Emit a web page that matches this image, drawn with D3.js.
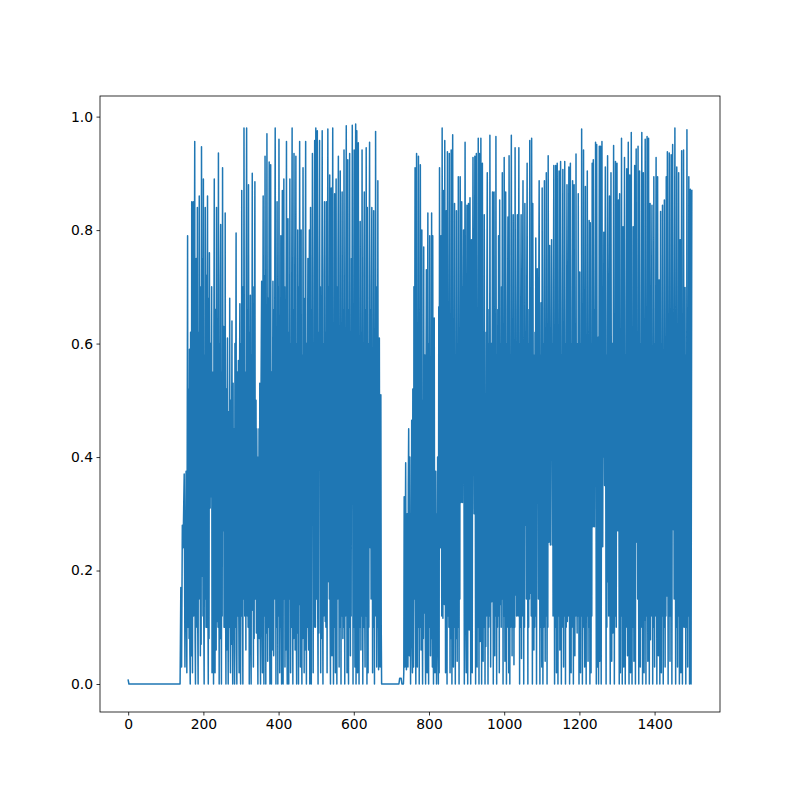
<!DOCTYPE html>
<html>
<head>
<meta charset="utf-8">
<script src="https://cdn.jsdelivr.net/npm/d3@7"></script>
<style>
  body { margin: 0; background: #fff; }
  svg { display: block; }
  .tick text { font-family: "DejaVu Sans", sans-serif; font-size: 13.9px; fill: #000; }
</style>
</head>
<body>
<svg id="chart"></svg>
<script>
// [index, value] points, split in the same runs the plot shows
var quietStart = [[0, .007], [2, 0], [138, 0]];

var rampUp = [
  [140, .17], [142, .03], [144, .28], [146, .24], [149, .37], [151, .03], [154, .375], [156, .02]
];

var firstBurst = [
  [158, .79], [159, .10], [160, .30], [161, .52], [162, .08], [163, .59], [164, .06], [165, 0],
  [166, .62], [167, .10], [168, .05], [169, .85], [170, .15], [171, .02], [172, .66], [173, .85],
  [174, .12], [175, .36], [176, .70], [177, .956], [178, .08], [179, 0], [180, .55], [181, .75],
  [182, .15], [183, .10], [184, .84], [185, .10], [186, 0], [187, .62], [188, .15], [189, .86],
  [190, .45], [191, .70], [192, .05], [193, .50], [194, .07], [195, .947], [196, .60], [197, .19],
  [198, .75], [199, .12], [200, .89], [201, .12], [202, 0], [203, .58], [204, .15], [205, .84],
  [206, .65], [207, .10], [208, .72], [209, .10], [210, .55], [211, .86], [212, .15], [213, 0],
  [214, .68], [215, .08], [216, .76], [217, .50], [218, .31], [219, .60], [220, .45], [221, .33],
  [222, .70], [223, .02], [224, .45], [225, .15], [226, .55], [227, 0], [228, .62], [229, .89],
  [230, .09], [231, .02], [232, .66], [233, .15], [234, .06], [235, .84], [236, .52], [237, .11],
  [238, .58], [239, .10], [240, .936], [241, .44], [242, 0], [243, .60], [244, .08], [245, .70],
  [246, .81], [247, .15], [248, 0], [249, .55], [250, .12], [251, .91], [252, .48], [253, .27],
  [254, .63], [255, .10], [256, .50], [257, .10], [258, .83], [259, .15], [260, 0], [261, .52],
  [262, .06], [263, .45], [264, .61], [265, .15], [266, 0], [267, .48], [268, .10], [269, .10],
  [270, .68], [271, .12], [272, .02], [273, .50], [274, .07], [275, .40], [276, .64], [277, .12],
  [278, 0], [279, .53], [280, .08], [281, .45], [282, .10], [283, 0], [284, .60], [285, .10],
  [286, .50], [287, .795], [288, .06], [289, 0], [290, .55], [291, .12], [292, .15], [293, .57],
  [294, .15], [295, .02], [296, .50], [297, .67], [298, .07], [299, 0], [300, .60], [301, .12],
  [302, .87], [303, .45], [304, .15], [305, 0], [306, .70], [307, .15], [308, .98], [309, .50],
  [310, .12], [311, .30], [312, .55], [313, .06], [314, .75], [315, .98], [316, .45], [317, .12],
  [318, .66], [319, .10], [320, .88], [321, .50], [322, 0], [323, .62], [324, .12], [325, .685],
  [326, .06], [327, 0], [328, .58], [329, .45], [330, .90], [331, .13], [332, .70], [333, .03],
  [334, .55], [335, .08], [336, .65], [337, .885], [338, .15], [339, .17], [340, .50], [341, .09],
  [342, .45], [343, .30], [344, .10], [345, 0], [346, .40], [347, .15], [348, .45], [349, .08],
  [350, .53], [351, .10], [352, 0], [353, .48], [354, .60], [355, .71], [356, .10], [357, .02],
  [358, .55], [359, .86], [360, .15], [361, 0], [362, .72], [363, .12], [364, .93], [365, .50],
  [366, 0], [367, .60], [368, .09], [369, .97], [370, .55], [371, .04], [372, .68], [373, .10],
  [374, .50], [375, .92], [376, .12], [377, 0], [378, .62], [379, .915], [380, .15], [381, 0],
  [382, .55], [383, .06], [384, .48], [385, .71], [386, .10], [387, .05], [388, .66], [389, .15],
  [390, .75], [391, .98], [392, .45], [393, 0], [394, .60], [395, .10], [396, .85], [397, .50],
  [398, 0], [399, .70], [400, .12], [401, .96], [402, .50], [403, .02], [404, .65], [405, .10],
  [406, .79], [407, .15], [408, 0], [409, .55], [410, .87], [411, .10], [412, 0], [413, .60],
  [414, .89], [415, .15], [416, .70], [417, .03], [418, .55], [419, .06], [420, .65], [421, .956],
  [422, .12], [423, 0], [424, .58], [425, .82], [426, .08], [427, 0], [428, .62], [429, .15],
  [430, .89], [431, .45], [432, .02], [433, .60], [434, .10], [435, .70], [436, .98], [437, .15],
  [438, 0], [439, .66], [440, .08], [441, .935], [442, .50], [443, .72], [444, .06], [445, .55],
  [446, .93], [447, .12], [448, 0], [449, .60], [450, .09], [451, .80], [452, .45], [453, 0],
  [454, .70], [455, .14], [456, .956], [457, .50], [458, .03], [459, .62], [460, .80], [461, .10],
  [462, 0], [463, .58], [464, .08], [465, .91], [466, .45], [467, .68], [468, .02], [469, .50],
  [470, .06], [471, .75], [472, .956], [473, .15], [474, 0], [475, .60], [476, .10], [477, .55],
  [478, .75], [479, .12], [480, .06], [481, .62], [482, .80], [483, 0], [484, .55], [485, .84],
  [486, .10], [487, 0], [488, .66], [489, .45], [490, .935], [491, .50], [492, .02], [493, .60],
  [494, .10], [495, .72], [496, .958], [497, .45], [498, .10], [499, .98], [500, .55], [501, .15],
  [502, .68], [503, .975], [504, .15], [505, 0], [506, .62], [507, .09], [508, .75], [509, .958],
  [510, .45], [511, .70], [512, .02], [513, .55], [514, .08], [515, .66], [516, .975], [517, .15],
  [518, 0], [519, .60], [520, .12], [521, .72], [522, .85], [523, .45], [524, .11], [525, .62],
  [526, .10], [527, .85], [528, .50], [529, .02], [530, .66], [531, .978], [532, .45], [533, .18],
  [534, .70], [535, .15], [536, .897], [537, .12], [538, 0], [539, .60], [540, .874], [541, .15],
  [542, .05], [543, .65], [544, .98], [545, .45], [546, 0], [547, .58], [548, .10], [549, .864],
  [550, .50], [551, .02], [552, .62], [553, .89], [554, .12], [555, 0], [556, .70], [557, .15],
  [558, .75], [559, .93], [560, .45], [561, .03], [562, .60], [563, .10], [564, .904], [565, .50],
  [566, 0], [567, .62], [568, .12], [569, .867], [570, .45], [571, .08], [572, .66], [573, .10],
  [574, .941], [575, .55], [576, 0], [577, .60], [578, .12], [579, .72], [580, .984], [581, .45],
  [582, .02], [583, .58], [584, .924], [585, .15], [586, 0], [587, .66], [588, .10], [589, .935],
  [590, .50], [591, .05], [592, .62], [593, .12], [594, .75], [595, .45], [596, .985], [597, .50],
  [598, 0], [599, .60], [600, .10], [601, .941], [602, .45], [603, .03], [604, .66], [605, .987],
  [606, 0], [607, .55], [608, .975], [609, .15], [610, .02], [611, .60], [612, .954], [613, .45],
  [614, 0], [615, .58], [616, .10], [617, .815], [618, .45], [619, .06], [620, .62], [621, .12],
  [622, .941], [623, .50], [624, 0], [625, .60], [626, .10], [627, .72], [628, .867], [629, .15],
  [630, .03], [631, .66], [632, .12], [633, .945], [634, .50], [635, 0], [636, .84], [637, .15],
  [638, .02], [639, .60], [640, .10], [641, .70], [642, .955], [643, .50], [644, .24], [645, .66],
  [646, .15], [647, .70], [648, .84], [649, .45], [650, .02], [651, .58], [652, .10], [653, .834],
  [654, .45], [655, 0], [656, .62], [657, .12], [658, .974], [659, .50], [660, .70], [661, .03],
  [662, .55], [663, .10], [664, .887], [665, .15], [666, .025], [667, .35], [668, .61], [669, .20],
  [670, .03], [671, .30], [672, .51], [673, .10], [674, 0]
];

var quietGap = [[720, 0], [722, .01], [726, .01], [728, 0], [732, 0]];

var secondRamp = [
  [733, .02], [734, .33], [735, .12], [736, .03], [737, .25], [738, .39], [739, .15], [740, .025],
  [741, .20], [742, .30], [743, .10], [744, .03], [745, .35], [746, .45], [747, .20], [748, .05],
  [749, .40], [750, .18], [751, 0], [752, .30], [753, .12], [754, .465], [755, .08], [756, .02],
  [757, .52], [758, .10], [759, .03], [760, .70], [761, .15], [762, .55], [763, .91], [764, .15],
  [765, 0], [766, .60], [767, .935], [768, .45], [769, .03], [770, .62], [771, .10], [772, .93],
  [773, .50], [774, 0], [775, .55], [776, .10], [777, .915], [778, .45], [779, .06], [780, .60],
  [781, .80], [782, .12], [783, 0], [784, .50], [785, .08], [786, .77], [787, .15], [788, .125],
  [789, .58], [790, .10], [791, 0], [792, .50], [793, .73], [794, .12], [795, .02], [796, .55],
  [797, .83], [798, .15], [799, 0], [800, .60], [801, .10], [802, .79], [803, .45], [804, .05],
  [805, .55], [806, .08], [807, .83], [808, .15], [809, .03], [810, .79], [811, .12], [812, 0],
  [813, .45], [814, .645], [815, .10], [816, .02], [817, .25], [818, .375], [819, .15], [820, 0],
  [821, .30], [822, .10], [823, .40], [824, .06], [825, 0], [826, .665], [827, .02]
];

var secondBurst = [
  [828, .91], [830, .24], [832, .79], [834, .12], [835, .98], [837, .116], [839, .87], [841, .14],
  [842, .958], [844, .02], [845, .55], [846, .834], [848, 0], [849, .938], [851, .12], [852, .60],
  [853, .10], [854, .935], [856, .02], [857, .60], [858, .08], [859, .941], [861, 0], [862, .55],
  [863, .968], [865, .03], [866, .62], [867, .10], [868, .847], [870, 0], [871, .58], [872, .08],
  [873, .834], [875, .04], [876, .60], [877, .10], [878, .894], [880, 0], [881, .62], [882, .15],
  [883, .894], [885, .32], [887, .85], [889, .32], [890, .70], [891, .45], [892, .80], [894, 0],
  [895, .60], [896, .955], [898, .10], [899, .02], [900, .55], [901, .844], [903, 0], [904, .60],
  [905, .847], [907, .095], [908, .50], [909, .857], [911, 0], [912, .55], [913, .783], [915, .02],
  [916, .60], [917, .928], [920, .30], [921, .60], [922, .93], [924, 0], [925, .62], [926, .935],
  [928, .03], [929, .58], [930, .10], [931, .962], [933, 0], [934, .935], [936, .075], [937, .60],
  [938, .962], [940, 0], [941, .55], [942, .918], [944, .04], [945, .60], [946, .10], [947, .827],
  [949, 0], [950, .45], [951, .066], [952, .62], [953, .12], [954, .70], [955, .901], [957, 0],
  [958, .60], [959, .10], [960, .66], [961, .12], [962, .967], [964, .03], [965, .45], [966, .60],
  [967, .145], [968, .55], [969, .867], [971, 0], [972, .60], [973, .867], [975, .05], [976, .62],
  [977, .12], [978, .965], [980, 0], [981, .58], [982, .10], [983, .66], [984, .12], [985, .79],
  [987, .02], [988, .853], [990, .14], [991, .60], [992, .10], [993, .70], [994, .15], [995, .901],
  [997, 0], [998, .62], [999, .12], [1000, .928], [1002, .04], [1003, .55], [1004, .867], [1006, 0],
  [1007, .60], [1008, .10], [1009, .66], [1010, .823], [1012, .02], [1013, .931], [1015, 0], [1016, .58],
  [1017, .10], [1018, .70], [1019, .967], [1021, .05], [1022, .60], [1023, .10], [1024, .827], [1026, .034],
  [1027, .55], [1028, .10], [1029, .945], [1031, .157], [1032, .60], [1033, .12], [1034, .66], [1035, .827],
  [1037, .12], [1038, .55], [1039, .945], [1041, 0], [1042, .60], [1043, .10], [1044, .66], [1045, .827],
  [1046, .045], [1047, .60], [1048, .12], [1049, .70], [1050, .887], [1052, 0], [1053, .55], [1054, .10],
  [1055, .847], [1057, .28], [1058, .62], [1059, .15], [1060, .70], [1061, .918], [1063, 0], [1064, .60],
  [1065, .10], [1066, .66], [1067, .15], [1068, .958], [1070, .16], [1071, .60], [1072, .12], [1073, .962],
  [1075, 0], [1076, .847], [1079, .06], [1080, .58], [1081, .10], [1082, .62], [1083, .12], [1084, .786],
  [1086, 0], [1087, .55], [1088, .732], [1089, .32], [1090, .66], [1091, .15], [1092, .70], [1093, .887],
  [1095, 0], [1096, .58], [1097, .10], [1098, .672], [1100, .03], [1101, .874], [1103, 0], [1104, .60],
  [1105, .10], [1106, .66], [1107, .887], [1109, .04], [1110, .60], [1111, .12], [1112, .901], [1114, 0],
  [1115, .58], [1116, .10], [1117, .931], [1119, .25], [1120, .60], [1121, .773], [1123, .245], [1124, .62],
  [1125, .40], [1126, .783], [1128, .245], [1129, .60], [1130, .12], [1131, .70], [1132, .914], [1134, 0],
  [1135, .58], [1136, .10], [1137, .914], [1139, .02], [1140, .60], [1141, .918], [1143, 0], [1144, .62],
  [1145, .12], [1146, .904], [1148, .06], [1149, .60], [1150, .921], [1152, 0], [1153, .58], [1154, .10],
  [1155, .66], [1156, .907], [1158, .03], [1159, .60], [1160, .12], [1161, .921], [1163, 0], [1164, .60],
  [1165, .10], [1166, .62], [1167, .88], [1168, .11], [1169, .60], [1170, .12], [1171, .70], [1172, .911],
  [1174, 0], [1175, .55], [1176, .918], [1178, .02], [1179, .60], [1180, .10], [1181, .66], [1182, .887],
  [1184, 0], [1185, .58], [1186, .88], [1188, .05], [1189, .60], [1190, .12], [1191, .934], [1192, .307],
  [1194, .09], [1195, .60], [1196, .12], [1197, .864], [1199, 0], [1200, .55], [1201, .726], [1203, .02],
  [1204, .60], [1205, .12], [1206, .978], [1208, 0], [1209, .58], [1210, .10], [1211, .941], [1212, .31],
  [1214, .03], [1215, .55], [1216, .877], [1218, 0], [1219, .60], [1220, .12], [1221, .904], [1223, .04],
  [1224, .55], [1225, .10], [1226, .817], [1228, 0], [1229, .813], [1231, .02], [1232, .60], [1233, .12],
  [1234, .918], [1236, .277], [1237, .924], [1240, .277], [1241, .66], [1242, .40], [1243, .955], [1245, 0],
  [1246, .951], [1248, .03], [1249, .45], [1250, .611], [1251, 0], [1252, .50], [1253, .948], [1254, .04],
  [1255, .60], [1256, .948], [1258, 0], [1259, .60], [1260, .956], [1262, .242], [1263, .60], [1264, .40],
  [1265, .796], [1267, .35], [1268, .66], [1269, .911], [1271, 0], [1272, .58], [1273, .10], [1274, .62],
  [1275, .931], [1276, .18], [1277, .60], [1278, .12], [1279, .66], [1280, .86], [1282, 0], [1283, .55],
  [1284, .901], [1286, .04], [1287, .45], [1288, .60], [1289, .09], [1290, .55], [1291, .949], [1293, 0],
  [1294, .60], [1295, .12], [1296, .921], [1298, .10], [1299, .60], [1300, .918], [1301, .34], [1302, .27],
  [1303, .60], [1304, .853], [1306, 0], [1307, .864], [1309, .02], [1310, .60], [1311, .12], [1312, .962],
  [1314, 0], [1315, .55], [1316, .806], [1318, .03], [1319, .60], [1320, .928], [1322, 0], [1323, .58],
  [1324, .10], [1325, .66], [1326, .908], [1328, .05], [1329, .60], [1330, .955], [1332, 0], [1333, .55],
  [1334, .897], [1336, .02], [1337, .60], [1338, .972], [1340, 0], [1341, .58], [1342, .10], [1343, .806],
  [1345, .04], [1346, .60], [1347, .914], [1349, 0], [1350, .55], [1351, .943], [1352, .35], [1353, .25],
  [1354, .62], [1355, .15], [1356, .948], [1358, 0], [1359, .60], [1360, .904], [1362, .03], [1363, .60],
  [1364, .10], [1365, .66], [1366, .972], [1368, 0], [1369, .58], [1370, .901], [1372, .02], [1373, .386],
  [1374, .113], [1375, .96], [1377, 0], [1378, .60], [1379, .12], [1380, .965], [1382, .04], [1383, .60],
  [1384, .962], [1386, 0], [1387, .55], [1388, .847], [1389, .078], [1390, .60], [1391, .12], [1392, .66],
  [1393, .844], [1395, 0], [1396, .58], [1397, .10], [1398, .894], [1400, .03], [1401, .60], [1402, .12],
  [1403, .66], [1404, .928], [1406, 0], [1407, .55], [1408, .894], [1410, .05], [1411, .50], [1412, .712],
  [1414, 0], [1415, .55], [1416, .833], [1418, .02], [1419, .60], [1420, .12], [1421, .844], [1423, 0],
  [1424, .58], [1425, .10], [1426, .853], [1428, .03], [1429, .60], [1430, .12], [1431, .894], [1432, .39],
  [1433, .155], [1434, .938], [1436, 0], [1437, .60], [1438, .12], [1439, .936], [1441, .04], [1442, .60],
  [1443, .12], [1444, .933], [1446, 0], [1447, .55], [1448, .951], [1450, .272], [1451, .62], [1452, .15],
  [1453, .70], [1454, .98], [1456, 0], [1457, .58], [1458, .10], [1459, .911], [1461, .03], [1462, .60],
  [1463, .12], [1464, .901], [1466, 0], [1467, .55], [1468, .783], [1470, .02], [1471, .60], [1472, .94],
  [1474, 0], [1475, .58], [1476, .10], [1477, .941], [1478, .36], [1479, .55], [1480, .10], [1481, .699],
  [1483, 0], [1484, .58], [1485, .10], [1486, .977], [1488, .03], [1489, .60], [1490, .12], [1491, .894],
  [1493, 0], [1494, .55], [1495, .872], [1497, 0], [1498, .45], [1499, .87]
];

var xTicks = [0, 200, 400, 600, 800, 1000, 1200, 1400];
var yTicks = [0, 0.2, 0.4, 0.6, 0.8, 1.0];

var data = quietStart.concat(rampUp, firstBurst, quietGap, secondRamp, secondBurst);

var svgWidth = 800, svgHeight = 800;
var margin = { top: 96, right: 80, bottom: 88, left: 100 };
var width = svgWidth - margin.left - margin.right;
var height = svgHeight - margin.top - margin.bottom;

var svg = d3.select("#chart")
  .attr("width", svgWidth)
  .attr("height", svgHeight);

var g = svg.append("g")
  .attr("transform", "translate(" + margin.left + "," + margin.top + ")");

// matplotlib style 5% padding around the data range
var xMin = d3.min(data, function(d) { return d[0]; });
var xMax = d3.max(data, function(d) { return d[0]; });
var yMin = d3.min(data, function(d) { return d[1]; });
var yMax = d3.max(data, function(d) { return d[1]; });
var xPad = (xMax - xMin) * 0.05, yPad = (yMax - yMin) * 0.05;

var x = d3.scaleLinear().domain([xMin - xPad, xMax + xPad]).range([0, width]);
var y = d3.scaleLinear().domain([yMin - yPad, yMax + yPad]).range([height, 0]);

var line = d3.line()
  .x(function(d) { return x(d[0]); })
  .y(function(d) { return y(d[1]); });

g.append("path")
  .datum(data)
  .attr("fill", "none")
  .attr("stroke", "#1f77b4")
  .attr("stroke-width", 1.5)
  .attr("stroke-linejoin", "round")
  .attr("stroke-linecap", "square")
  .attr("d", line);

var xAxis = g.append("g")
  .attr("transform", "translate(0," + height + ")")
  .call(d3.axisBottom(x).tickValues(xTicks).tickFormat(d3.format("d")).tickSize(3.5).tickPadding(3.5));

var yAxis = g.append("g")
  .call(d3.axisLeft(y).tickValues(yTicks).tickFormat(d3.format(".1f")).tickSize(3.5).tickPadding(3.5));

[xAxis, yAxis].forEach(function(a) {
  a.select(".domain").remove();
  a.selectAll(".tick line").attr("stroke", "#000").attr("stroke-width", 0.8);
});

// frame
g.append("rect")
  .attr("width", width)
  .attr("height", height)
  .attr("fill", "none")
  .attr("stroke", "#000")
  .attr("stroke-width", 0.8);
</script>
</body>
</html>
